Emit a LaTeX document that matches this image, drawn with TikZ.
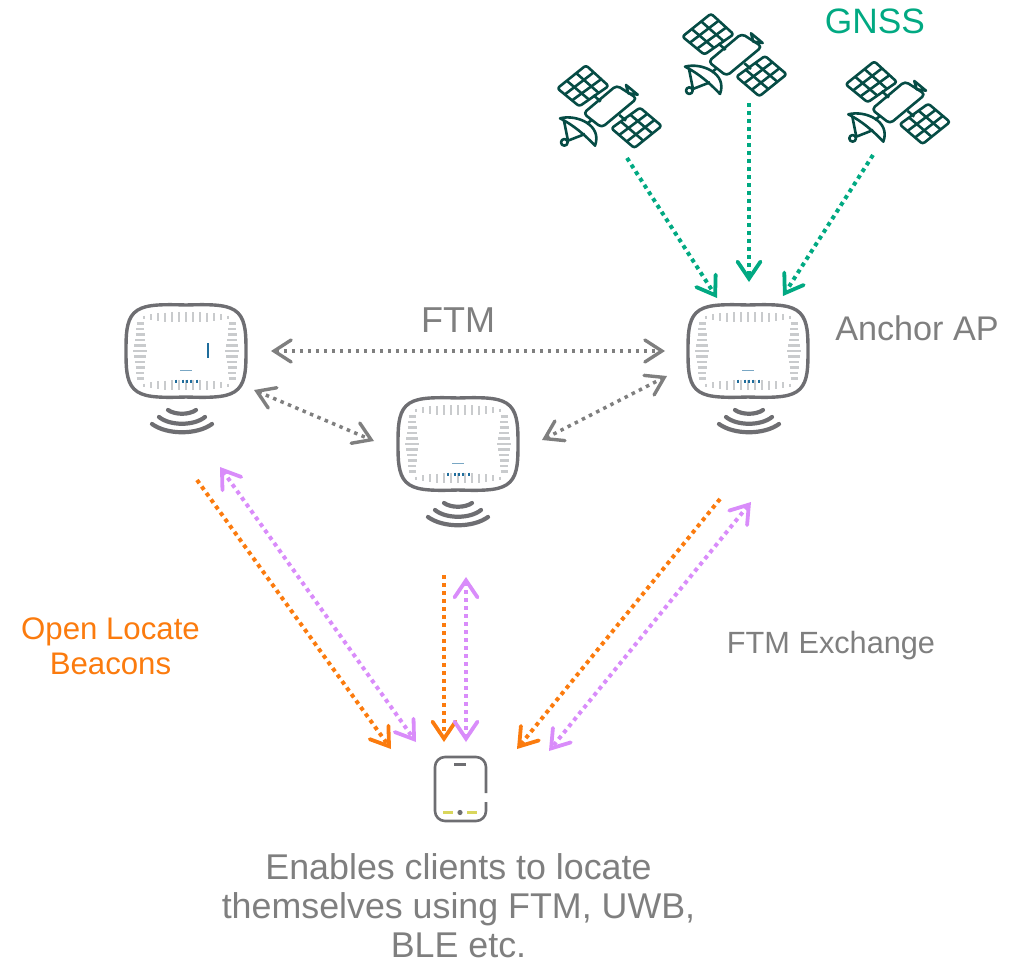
\documentclass[tikz,border=0pt]{standalone}
\usepackage{fontspec}
\setmainfont{Liberation Sans}
\usetikzlibrary{arrows.meta,calc}
\definecolor{gnss}{HTML}{01A982}
\definecolor{satdark}{HTML}{064C45}
\definecolor{ora}{HTML}{FB7B0E}
\definecolor{pur}{HTML}{D98CFA}
\definecolor{gry}{HTML}{7F7F7F}
\definecolor{apline}{HTML}{6E6E72}
\definecolor{tick}{HTML}{C9CBCD}
\definecolor{apblue}{HTML}{1F6D9C}
\definecolor{yel}{HTML}{D9D65C}
\newcommand{\satpanel}[4]{%
  \coordinate (pa) at (#1); \coordinate (pb) at (#2); \coordinate (pc) at (#3); \coordinate (pd) at (#4);
  \draw[satline,rounded corners=2.5pt] (pa) -- (pb) -- (pc) -- (pd) -- cycle;
  \foreach \t in {0.34,0.67}{\draw[satline] ($(pa)!\t!(pd)$) -- ($(pb)!\t!(pc)$);}
  \foreach \t in {0.34,0.67}{\draw[satline] ($(pa)!\t!(pb)$) -- ($(pd)!\t!(pc)$);}
}
\tikzset{
  x=1pt,y=-1pt,
  satline/.style={draw=satdark,line width=2.6pt,line join=round},
  bigtip/.tip={Straight Barb[length=17pt,width=23pt,line width=3.8pt,line cap=round]},
  graytip/.tip={Straight Barb[length=17pt,width=22pt,line width=3.4pt,line cap=round]},
  dotline/.style={line width=4pt,dash pattern=on 4pt off 4pt},
  gnssarrow/.style={dotline,draw=gnss,-bigtip},
  oraarrow/.style={dotline,draw=ora,-bigtip},
  purarrow/.style={dotline,draw=pur,bigtip-bigtip},
  gryarrow/.style={line width=3.5pt,dash pattern=on 3.5pt off 4.5pt,draw=gry,graytip-graytip},
  lbl/.style={inner sep=0pt,align=center},
  sat/.pic={
    \begin{scope}[scale=1/3]
      \satpanel{138,196}{206,258}{118,319}{52,265}
      \satpanel{300,323}{365,378}{283,444}{214,385}
      \draw[satline,rounded corners=4pt] (230,256) -- (291,295) -- (185,383) -- (130,340) -- cycle;
      \draw[satline] (258,255) -- (293,284) -- (265,280) -- cycle;
      \draw[satline] (160,285) -- (182,305);
      \draw[satline] (238,345) -- (258,362);
      \draw[satline] (140,372) -- (155,360);
      \draw[satline] (60,355) .. controls (110,342) and (188,375) .. (165,437) .. controls (135,405) and (100,375) .. (60,355) -- cycle;
      \draw[satline] (72,362) -- (84,422) -- (135,402);
      \draw[satline] (73,427) circle (10);
    \end{scope}
  },
  ap/.pic={
    \foreach \xx/\l in {-42/3,-35/6,-28/8,-21/9,-14/10,-7/10,0/10,7/10,14/10,21/9,28/8,35/6,42/3}{
      \draw[tick,line width=2.2pt] (\xx,{-34-\l/2}) -- (\xx,{-34+\l/2});
      \draw[tick,line width=2.2pt] (\xx,{34-\l/2}) -- (\xx,{34+\l/2});
    }
    \foreach \yy/\l in {-27.5/7,-22/8,-16.5/9,-11/10,-5.5/12,0/14,5.5/12,11/10,16.5/9,22/8,27.5/7}{
      \draw[tick,line width=2.2pt] ({-46-\l/2},\yy) -- ({-46+\l/2},\yy);
      \draw[tick,line width=2.2pt] ({46-\l/2},\yy) -- ({46+\l/2},\yy);
    }
    \draw[apline,line width=3.4pt]
      (0,-46) .. controls (30,-47) and (44,-46) .. (52,-38)
      .. controls (60,-30) and (60,-15) .. (60,0)
      .. controls (60,15) and (60,30) .. (52,38)
      .. controls (44,46) and (30,47) .. (0,46)
      .. controls (-30,47) and (-44,46) .. (-52,38)
      .. controls (-60,30) and (-60,15) .. (-60,0)
      .. controls (-60,-15) and (-60,-30) .. (-52,-38)
      .. controls (-44,-46) and (-30,-47) .. (0,-46) -- cycle;
    \draw[apblue!60,line width=0.9pt] (-6,19) -- (6,19);
    \foreach \xx in {-10,-3,1,5,11}{\draw[apblue,line width=2pt] (\xx,28.5) -- (\xx,31.5);}
  },
  apwaves/.pic={
    \draw[apline,line width=4.2pt,line cap=round] (-14,59) .. controls (-7,64) and (7,64) .. (14,59);
    \draw[apline,line width=4.2pt,line cap=round] (-23,66) .. controls (-12,75) and (12,75) .. (23,66);
    \draw[apline,line width=4.2pt,line cap=round] (-30,73) .. controls (-15,84) and (15,84) .. (30,73);
  },
}
\begin{document}
\begin{tikzpicture}
\useasboundingbox (0,0) rectangle (1009,961);
% satellites
\pic (sat1) at (540,0) {sat};
\pic (sat2) at (665,-51.7) {sat};
\pic (sat3) at (828.3,-4) {sat};
% access points
\pic (ap1) at (186,351) {ap};
\pic (ap2) at (458,444) {ap};
\pic (ap3) at (748,351) {ap};
\pic (w1) at (182,351) {apwaves};
\pic (w2) at (458,444) {apwaves};
\pic (w3) at (749,351) {apwaves};
\draw[apblue,line width=1.6pt] (208,343) -- (208,358);
% phone
\coordinate (phone) at (460,788);
\draw[apline,line width=2.6pt,rounded corners=10pt] (486,793) -- (486,757) -- (435,757) -- (435,821) -- (486,821) -- (486,802);
\draw[apline,line width=2.6pt] (454,764.5) -- (466,764.5);
\draw[yel,line width=2.6pt] (443,812.5) -- (453,812.5);
\draw[yel,line width=2.6pt] (467,812.5) -- (477,812.5);
\fill[apline] (460,812.5) circle (2.6);
% connector ends
\coordinate (s1out) at (627,158); \coordinate (s2out) at (749,103); \coordinate (s3out) at (873,155);
\coordinate (ap3a) at (717,298); \coordinate (ap3b) at (749,282); \coordinate (ap3c) at (783,296);
\coordinate (ap1E) at (271,351); \coordinate (ap3W) at (665,351);
\coordinate (ap1S) at (254,390); \coordinate (ap2W) at (374,441);
\coordinate (ap2E) at (542,440); \coordinate (ap3S) at (667,376);
\coordinate (o1a) at (197,480); \coordinate (o1b) at (391,749);
\coordinate (o2a) at (444,575); \coordinate (o2b) at (444,742);
\coordinate (o3a) at (720,499); \coordinate (o3b) at (517,749);
\coordinate (p1a) at (220,467); \coordinate (p1b) at (416,742);
\coordinate (p2a) at (466,577); \coordinate (p2b) at (466,742);
\coordinate (p3a) at (751,502); \coordinate (p3b) at (549,751);
\draw[gnssarrow] (s1out) -- (ap3a);
\draw[gnssarrow] (s2out) -- (ap3b);
\draw[gnssarrow] (s3out) -- (ap3c);
\draw[gryarrow] (ap1E) -- (ap3W);
\draw[gryarrow] (ap1S) -- (ap2W);
\draw[gryarrow] (ap2E) -- (ap3S);
\draw[oraarrow] (o1a) -- (o1b);
\draw[oraarrow] (o2a) -- (o2b);
\draw[oraarrow] (o3a) -- (o3b);
\draw[purarrow] (p1a) -- (p1b);
\draw[purarrow] (p2a) -- (p2b);
\draw[purarrow] (p3a) -- (p3b);
% labels
\node[lbl,text=gnss,font=\fontsize{35.3}{39}\selectfont] (tgnss) at (875,21) {GNSS};
\node[lbl,text=gry,font=\fontsize{36}{39}\selectfont] (tftm) at (458,320) {FTM};
\node[lbl,text=gry,font=\fontsize{34.2}{39}\selectfont] (tanchor) at (917,328) {Anchor AP};
\node[lbl,text=ora,font=\fontsize{31.2}{35}\selectfont] (topen) at (110.5,646) {Open Locate\\Beacons};
\node[lbl,text=gry,font=\fontsize{30.7}{35}\selectfont] (tex) at (831,646) {FTM Exchange};
\node[lbl,text=gry,font=\fontsize{35.8}{39}\selectfont] (ten) at (458.5,906) {Enables clients to locate\\themselves using FTM, UWB,\\BLE etc.};
\end{tikzpicture}
\end{document}
